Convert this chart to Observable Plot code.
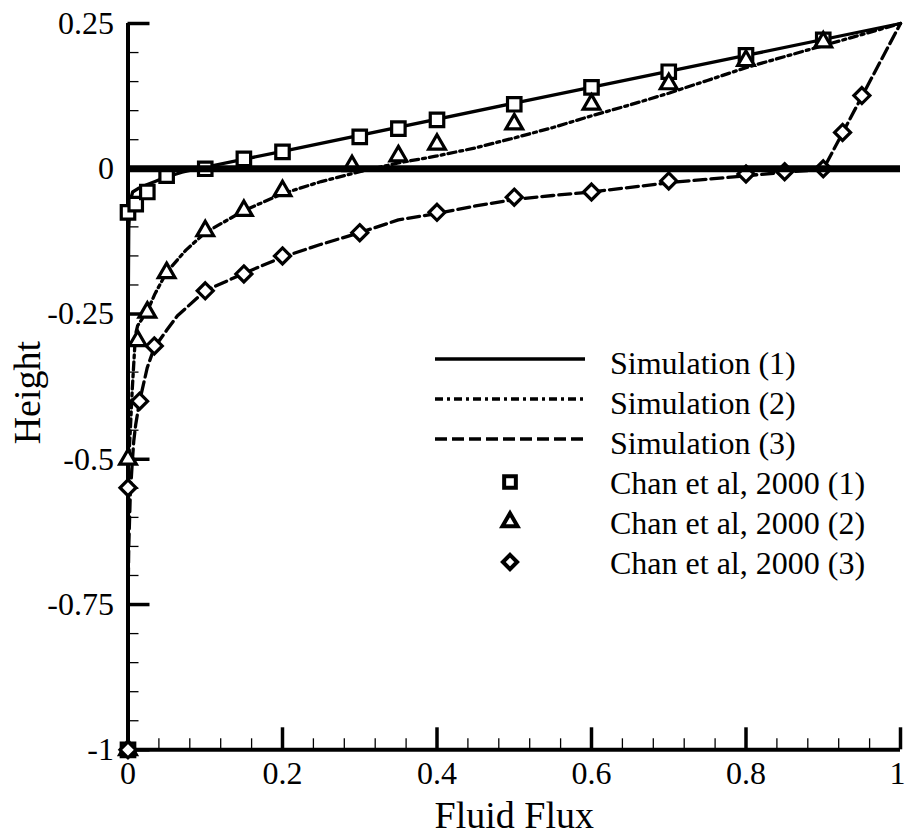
<!DOCTYPE html>
<html>
<head>
<meta charset="utf-8">
<script src="https://cdn.jsdelivr.net/npm/d3@7"></script>
<script src="https://cdn.jsdelivr.net/npm/@observablehq/plot@0.6"></script>
<style>
  html, body { margin: 0; padding: 0; background: #fff; }
  #wrap { position: relative; width: 906px; height: 838px; overflow: hidden; }
</style>
</head>
<body>
<div id="wrap"></div>
<script>
// ---- Data ----
const xTickValues = [0, 0.2, 0.4, 0.6, 0.8, 1];
const yTickValues = [0.25, 0, -0.25, -0.5, -0.75, -1];

const sim1X = [0, 0, 0.001, 0.003, 0.006, 0.013, 0.025, 0.035, 0.05, 0.07, 0.09, 0.2, 0.5, 0.8, 1];
const sim1Y = [-1, -0.3, -0.1, -0.055, -0.04, -0.034, -0.027, -0.022, -0.014, -0.006, 0.0, 0.03, 0.113, 0.195, 0.25];

const sim2X = [0, 0, 0.001, 0.003, 0.0055, 0.0097, 0.0125, 0.02, 0.025, 0.035, 0.05, 0.075, 0.1, 0.15, 0.2, 0.25, 0.3, 0.35, 0.4, 0.45, 0.5, 0.55, 0.6, 0.65, 0.7, 0.75, 0.8, 0.85, 0.9, 0.95, 1];
const sim2Y = [-1, -0.7, -0.5, -0.45, -0.38, -0.285, -0.27, -0.255, -0.245, -0.215, -0.178, -0.14, -0.11, -0.072, -0.043, -0.022, -0.005, 0.01, 0.022, 0.036, 0.053, 0.071, 0.091, 0.11, 0.13, 0.152, 0.174, 0.193, 0.212, 0.231, 0.25];

const sim3X = [0, 0, 0.001, 0.003, 0.0054, 0.0075, 0.01, 0.015, 0.025, 0.034, 0.05, 0.064, 0.1, 0.15, 0.2, 0.25, 0.3, 0.35, 0.4, 0.45, 0.5, 0.55, 0.6, 0.7, 0.8, 0.85, 0.9, 1];
const sim3Y = [-1, -0.75, -0.65, -0.56, -0.508, -0.468, -0.44, -0.40, -0.342, -0.308, -0.278, -0.253, -0.21, -0.18, -0.152, -0.13, -0.11, -0.088, -0.077, -0.064, -0.053, -0.046, -0.04, -0.024, -0.012, -0.006, -0.001, 0.25];

const chan1X = [0, 0, 0.01, 0.025, 0.05, 0.1, 0.15, 0.2, 0.3, 0.35, 0.4, 0.5, 0.6, 0.7, 0.8, 0.9];
const chan1Y = [-1, -0.075, -0.061, -0.040, -0.012, 0.0, 0.017, 0.029, 0.055, 0.069, 0.084, 0.111, 0.140, 0.167, 0.195, 0.222];

const chan2X = [0, 0, 0.0125, 0.025, 0.05, 0.1, 0.15, 0.2, 0.29, 0.35, 0.4, 0.5, 0.6, 0.7, 0.8, 0.9];
const chan2Y = [-1, -0.5, -0.296, -0.247, -0.179, -0.107, -0.072, -0.038, 0.005, 0.022, 0.042, 0.077, 0.111, 0.146, 0.186, 0.218];

const chan3X = [0, 0, 0.015, 0.034, 0.1, 0.15, 0.2, 0.3, 0.4, 0.5, 0.6, 0.7, 0.8, 0.85, 0.9, 0.925, 0.95];
const chan3Y = [-1, -0.549, -0.40, -0.305, -0.21, -0.181, -0.150, -0.110, -0.075, -0.049, -0.040, -0.021, -0.009, -0.005, 0.0, 0.0625, 0.126];

const legendLabels = ["Simulation (1)", "Simulation (2)", "Simulation (3)",
  "Chan et al, 2000 (1)", "Chan et al, 2000 (2)", "Chan et al, 2000 (3)"];

// ---- Build tables ----
const toPts = (xs, ys) => xs.map((x, i) => ({x, y: ys[i]}));
const sim1 = toPts(sim1X, sim1Y), sim2 = toPts(sim2X, sim2Y), sim3 = toPts(sim3X, sim3Y);
const chan1 = toPts(chan1X, chan1Y), chan2 = toPts(chan2X, chan2Y), chan3 = toPts(chan3X, chan3Y);

// ---- Layout / style ----
const W = 906, H = 838;
const mL = 127.5, mR = 6, mT = 23, mB = 88.7;
const plotW = W - mL - mR, plotH = H - mT - mB;
const FONT = "'Liberation Serif', 'Times New Roman', Times, serif";
const dash2 = "8,4,3,4";
const dash3 = "12,5";
const lineW = 3.3;
const symR = {square: 7.6, triangle: 6.2, diamond2: 7.2};

const isMult = (v, s) => Math.abs(Math.round(v / s) * s - v) < 1e-9;
const xMinor = d3.range(0, 1.0001, 0.04).filter(v => !isMult(v, 0.2));
const yMinor = d3.range(-1, 0.2501, 0.05).filter(v => !isMult(v, 0.25));
const xLabelsInner = xTickValues.slice(0, -1);
const xLabelLast = xTickValues.slice(-1);

const chart = Plot.plot({
  width: W, height: H,
  marginLeft: mL, marginRight: mR, marginTop: mT, marginBottom: mB,
  style: {fontFamily: FONT, fontSize: "32px", background: "white", color: "black"},
  x: {domain: [0, 1], axis: null},
  y: {domain: [-1, 0.25], axis: null},
  marks: [
    // minor ticks (inward)
    Plot.tickY(yMinor, {y: d => d, insetRight: plotW - 11, strokeWidth: 1.3}),
    Plot.tickX(xMinor, {x: d => d, insetTop: plotH - 11, strokeWidth: 1.3}),
    // major ticks (inward)
    Plot.tickY(yTickValues, {y: d => d, insetRight: plotW - 22, strokeWidth: 3.5}),
    Plot.tickX(xTickValues, {x: d => d, insetTop: plotH - 22, strokeWidth: 3.5}),
    // axis lines
    Plot.ruleX([0], {strokeWidth: 4}),
    Plot.ruleY([-1], {strokeWidth: 4}),
    // tick labels
    Plot.axisX(xLabelsInner, {tickSize: 0, tickPadding: 11, tickFormat: d => String(d), label: null, fontSize: 32}),
    Plot.text(xLabelLast, {x: d => d, text: d => String(d), frameAnchor: "bottom", lineAnchor: "top", textAnchor: "end", dx: 5, dy: 11, fontSize: 32}),
    Plot.axisY(yTickValues, {tickSize: 0, tickPadding: 14, tickFormat: d => String(d), label: null, fontSize: 32}),
    // axis titles
    Plot.text(["Fluid Flux"], {text: d => d, frameAnchor: "bottom", textAnchor: "middle", dy: 78, fontSize: 38}),
    Plot.text(["Height"], {text: d => d, frameAnchor: "left", textAnchor: "middle", lineAnchor: "middle", dx: -99.7, dy: 6, rotate: -90, fontSize: 38}),
    // simulation lines
    Plot.line(sim1, {x: "x", y: "y", stroke: "black", strokeWidth: lineW}),
    Plot.line(sim2, {x: "x", y: "y", stroke: "black", strokeWidth: lineW, strokeDasharray: dash2}),
    Plot.line(sim3, {x: "x", y: "y", stroke: "black", strokeWidth: lineW, strokeDasharray: dash3}),
    // experimental markers
    Plot.dot(chan1, {x: "x", y: "y", symbol: "square", r: symR.square, stroke: "black", fill: "white", strokeWidth: 3.2}),
    Plot.dot(chan2, {x: "x", y: "y", symbol: "triangle", r: symR.triangle, stroke: "black", fill: "white", strokeWidth: 3.2}),
    Plot.dot(chan3, {x: "x", y: "y", symbol: "diamond2", r: symR.diamond2, stroke: "black", fill: "white", strokeWidth: 3.2}),
    // heavy zero line on top
    Plot.ruleY([0], {strokeWidth: 7})
  ]
});

const wrap = document.getElementById("wrap");
wrap.appendChild(chart);

// ---- Legend overlay ----
const leg = d3.create("svg")
  .attr("width", W).attr("height", H)
  .style("position", "absolute").style("left", "0px").style("top", "0px")
  .style("pointer-events", "none")
  .style("font-family", FONT);

const legBase0 = 374, legStep = 40;
const legLineX0 = 435, legLineX1 = 585, legSymX = 510, legTextX = 610;
const legDash = [null, dash2, dash3];
const legSym = [["square", 6.6], ["triangle", 5.6], ["diamond2", 6.4]];
const d3Sym = {square: d3.symbolSquare, triangle: d3.symbolTriangle, diamond2: d3.symbolDiamond2};

legendLabels.forEach((label, i) => {
  const base = legBase0 + i * legStep;
  if (i < 3) {
    const ln = leg.append("line")
      .attr("x1", legLineX0).attr("x2", legLineX1)
      .attr("y1", base - 15).attr("y2", base - 15)
      .attr("stroke", "black").attr("stroke-width", lineW);
    if (legDash[i]) ln.attr("stroke-dasharray", legDash[i]);
  } else {
    const [name, r] = legSym[i - 3];
    leg.append("path")
      .attr("d", d3.symbol(d3Sym[name], r * r * Math.PI)())
      .attr("transform", `translate(${legSymX},${base - 12})`)
      .attr("fill", "white").attr("stroke", "black").attr("stroke-width", 4);
  }
  leg.append("text")
    .attr("x", legTextX).attr("y", base)
    .attr("font-size", 32).attr("fill", "black")
    .text(label);
});

wrap.appendChild(leg.node());
</script>
</body>
</html>
